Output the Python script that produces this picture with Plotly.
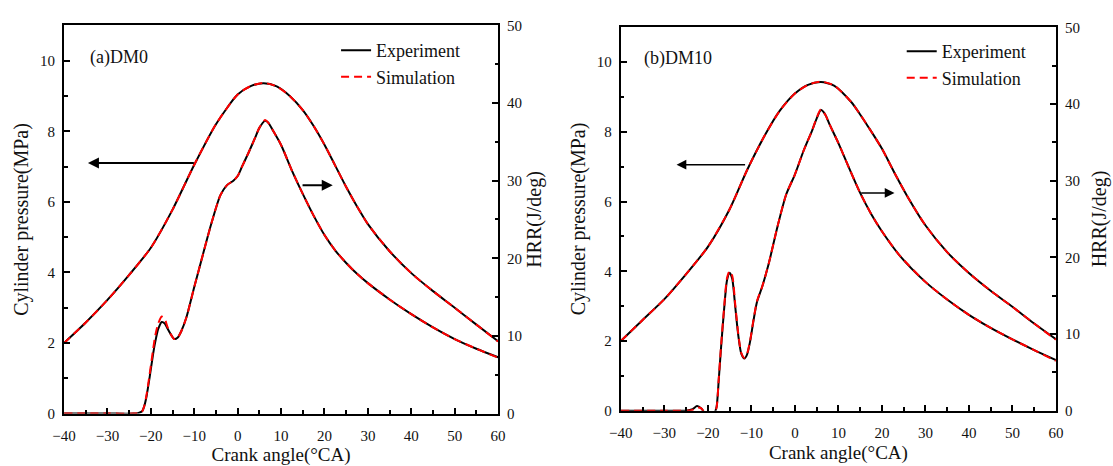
import plotly.graph_objects as go

# ---------------- data: (a) DM0 ----------------
dm0_p_ca = [-40, -35, -30, -25, -20, -15, -10, -5, 0, 3, 6, 9, 12, 15, 17.5, 20, 22.5, 25, 27.5, 30, 35, 40, 45, 50, 55, 60]
dm0_p_exp = [2.0, 2.58, 3.22, 3.93, 4.7, 5.78, 7.05, 8.2, 9.04, 9.28, 9.36, 9.27, 9.0, 8.6, 8.15, 7.62, 7.02, 6.42, 5.87, 5.37, 4.6, 3.98, 3.47, 3.0, 2.52, 2.05]
dm0_p_sim = [2.0, 2.58, 3.22, 3.93, 4.7, 5.78, 7.05, 8.2, 9.04, 9.28, 9.37, 9.27, 9.0, 8.6, 8.15, 7.62, 7.02, 6.42, 5.87, 5.37, 4.6, 3.98, 3.47, 3.0, 2.52, 2.04]

dm0_h_ca = [-40, -30, -24, -23, -22, -21.5, -21, -20.3, -19.5, -19, -18.3, -17.5, -16.8, -16.2, -15.4, -14.6, -13.8, -13,
            -11.8, -10, -8, -6, -4, -2.5, -1, 0, 1, 2.5, 4, 5, 6.3, 7, 8, 10, 12.5, 15, 17.5, 20, 22.5, 25, 27.5, 30, 35, 40, 45, 50, 55, 60]
dm0_h_exp = [0, 0, 0, 0.05, 0.3, 1.0, 2.2, 4.6, 7.6, 9.2, 10.9, 11.8, 11.6, 11.0, 10.2, 9.6, 9.8, 10.6,
             12.4, 16.3, 20.5, 24.6, 28.1, 29.4, 30.0, 30.6, 31.8, 33.6, 35.5, 36.8, 37.7, 37.5, 36.6, 34.6, 31.3, 28.3, 25.5, 23.0, 21.0, 19.4, 18.0, 16.8, 14.7, 12.8, 11.1, 9.6, 8.35, 7.25]
dm0_h_sim = [0, 0, 0, 0.05, 0.3, 1.0, 2.4, 5.0, 8.2, 10.0, 11.6, 12.5, 12.2, 11.2, 10.2, 9.6, 9.8, 10.6,
             12.4, 16.3, 20.5, 24.6, 28.1, 29.4, 30.0, 30.6, 31.8, 33.6, 35.5, 36.8, 37.8, 37.5, 36.6, 34.6, 31.3, 28.3, 25.5, 23.0, 21.0, 19.4, 18.0, 16.8, 14.7, 12.8, 11.1, 9.6, 8.35, 7.2]

# ---------------- data: (b) DM10 ----------------
dm10_p_ca = [-40, -35, -30, -25, -20, -15, -11, -7, -3.5, 0, 3, 6, 9, 13, 15, 17, 20, 23, 26, 30, 35, 40, 45, 50, 55, 60]
dm10_p_exp = [2.0, 2.6, 3.2, 3.92, 4.7, 5.78, 6.9, 7.88, 8.6, 9.1, 9.35, 9.43, 9.33, 8.85, 8.5, 8.12, 7.52, 6.8, 6.12, 5.32, 4.55, 3.95, 3.44, 2.98, 2.5, 2.05]
dm10_p_sim = [2.0, 2.6, 3.2, 3.92, 4.7, 5.78, 6.9, 7.88, 8.6, 9.1, 9.35, 9.44, 9.33, 8.85, 8.5, 8.12, 7.52, 6.8, 6.12, 5.32, 4.55, 3.95, 3.44, 2.98, 2.5, 2.04]

dm10_h_ca = [-40, -30, -25, -23.5, -22.5, -21.5, -20.5, -19.5, -18.5, -18, -17.5, -17, -16.3, -15.6, -15, -14.4, -13.7, -13,
             -12.3, -11.6, -11, -10.3, -9.5, -8.7, -7.5, -6, -4, -2, 0, 2, 4, 5, 6, 7, 8, 10, 12.5, 15, 17.5, 20, 24, 30, 35, 40, 45, 50, 55, 60]
dm10_h_exp = [0, 0, 0, 0.2, 0.6, 0.3, -0.5, -0.7, -0.3, 0.5, 4, 8, 13, 17, 18, 17.2, 13.5, 9.8,
              7.4, 6.8, 7.3, 9, 11.8, 14.2, 16.2, 19.2, 24.0, 28.2, 30.8, 33.9, 36.6, 38.1, 39.2, 38.6, 37.3, 34.9, 31.6, 28.4, 25.7, 23.4, 20.3, 16.8, 14.5, 12.5, 10.8, 9.3, 7.9, 6.6]
dm10_h_sim = [0, 0, 0, 0.1, 0.4, 0.3, -0.6, -0.8, -0.3, 0.4, 4.2, 8.2, 13.2, 17.3, 18.2, 17.6, 13.8, 10,
              7.5, 6.9, 7.4, 9.1, 11.9, 14.3, 16.2, 19.2, 24.0, 28.2, 30.8, 33.9, 36.6, 38.2, 39.3, 38.6, 37.3, 34.9, 31.6, 28.4, 25.7, 23.4, 20.3, 16.8, 14.5, 12.5, 10.8, 9.3, 7.9, 6.5]

FONT = "Liberation Serif, Times New Roman, Times, serif"
TXT = "#111111"
W, H = 1113, 466

fig = go.Figure()

def line_trace(x, y, xa, ya, leg, name, sim, show):
    style = dict(color="red", width=2, dash="8px,5px") if sim else dict(color="black", width=2)
    style.update(shape="spline", smoothing=0.7)
    return go.Scatter(x=x, y=y, mode="lines", name=name, line=style,
                      xaxis=xa, yaxis=ya, legend=leg, showlegend=show)

fig.add_trace(line_trace(dm0_p_ca, dm0_p_exp, "x", "y", "legend", "Experiment", False, True))
fig.add_trace(line_trace(dm0_h_ca, dm0_h_exp, "x", "y2", "legend", "Experiment", False, False))
fig.add_trace(line_trace(dm0_p_ca, dm0_p_sim, "x", "y", "legend", "Simulation", True, True))
fig.add_trace(line_trace(dm0_h_ca, dm0_h_sim, "x", "y2", "legend", "Simulation", True, False))
fig.add_trace(line_trace(dm10_p_ca, dm10_p_exp, "x2", "y3", "legend2", "Experiment", False, True))
fig.add_trace(line_trace(dm10_h_ca, dm10_h_exp, "x2", "y4", "legend2", "Experiment", False, False))
fig.add_trace(line_trace(dm10_p_ca, dm10_p_sim, "x2", "y3", "legend2", "Simulation", True, True))
fig.add_trace(line_trace(dm10_h_ca, dm10_h_sim, "x2", "y4", "legend2", "Simulation", True, False))

tickfont = dict(family=FONT, size=15, color=TXT)
minor_common = dict(ticks="inside", ticklen=3.5, tickwidth=1.5, tickcolor="black", showgrid=False)

def xaxis_cfg(domain, anchor):
    return dict(domain=domain, anchor=anchor, range=[-40, 60], tickmode="linear", tick0=-40, dtick=10,
                ticks="inside", ticklen=6, tickwidth=1.5, tickcolor="black",
                minor=dict(dtick=5, **minor_common),
                showline=True, linewidth=2, linecolor="black", mirror=True,
                showgrid=False, zeroline=False, tickfont=tickfont, ticklabelstandoff=7,
                title=dict(text="Crank angle(°CA)", font=dict(family=FONT, size=19, color=TXT), standoff=6))

def yleft_cfg(domain, anchor):
    return dict(domain=domain, anchor=anchor, range=[0, 11], tickmode="linear", tick0=0, dtick=2,
                ticks="inside", ticklen=6, tickwidth=1.5, tickcolor="black",
                minor=dict(dtick=1, **minor_common),
                showline=True, linewidth=2, linecolor="black",
                showgrid=False, zeroline=False, tickfont=tickfont, ticklabelstandoff=4,
                title=dict(text="Cylinder pressure(MPa)", font=dict(family=FONT, size=20, color=TXT), standoff=6))

def yright_cfg(over, anchor, standoff):
    return dict(overlaying=over, anchor=anchor, side="right", range=[0, 50], tickmode="linear", tick0=0, dtick=10,
                ticks="inside", ticklen=6, tickwidth=1.5, tickcolor="black",
                minor=dict(dtick=5, **minor_common),
                showline=True, linewidth=2, linecolor="black",
                showgrid=False, zeroline=False, tickfont=tickfont, ticklabelstandoff=4,
                title=dict(text="HRR(J/deg)", font=dict(family=FONT, size=20, color=TXT), standoff=standoff))

dx1 = [53 / W, 495 / W]
dy1 = [1 - 420 / H, 1 - 18 / H]
dx2 = [620 / W, 1063 / W]
dy2 = [1 - 417 / H, 1 - 20 / H]

legfont = dict(family=FONT, size=18, color=TXT)

fig.update_layout(
    width=W, height=H, margin=dict(l=0, r=0, t=0, b=0),
    paper_bgcolor="white", plot_bgcolor="white",
    font=dict(family=FONT, color=TXT),
    xaxis=xaxis_cfg(dx1, "y"),
    yaxis=yleft_cfg(dy1, "x"),
    yaxis2=yright_cfg("y", "x", 6),
    xaxis2=xaxis_cfg(dx2, "y3"),
    yaxis3=yleft_cfg(dy2, "x2"),
    yaxis4=yright_cfg("y3", "x2", 13),
    legend=dict(x=330 / W, y=1 - 25 / H, xanchor="left", yanchor="top", font=legfont,
                bgcolor="rgba(0,0,0,0)", borderwidth=0, tracegroupgap=0),
    legend2=dict(x=906 / W, y=1 - 26 / H, xanchor="left", yanchor="top", font=legfont,
                 bgcolor="rgba(0,0,0,0)", borderwidth=0, tracegroupgap=0),
)

# panel labels
fig.add_annotation(text="(a)DM0", x=77 / W, y=1 - 51 / H, xref="paper", yref="paper",
                   xanchor="left", yanchor="middle", showarrow=False, font=dict(family=FONT, size=18, color=TXT))
fig.add_annotation(text="(b)DM10", x=642 / W, y=1 - 52 / H, xref="paper", yref="paper",
                   xanchor="left", yanchor="middle", showarrow=False, font=dict(family=FONT, size=18, color=TXT))

# arrows (head at x,y; tail at ax,ay)
fig.add_annotation(x=-34.5, y=7.1, ax=-9.75, ay=7.1, xref="x", yref="y", axref="x", ayref="y",
                   text="", showarrow=True, arrowhead=2, arrowsize=1.1, arrowwidth=2, arrowcolor="black")
fig.add_annotation(x=21.9, y=29.4, ax=14.6, ay=29.4, xref="x", yref="y2", axref="x", ayref="y2",
                   text="", showarrow=True, arrowhead=2, arrowsize=1.1, arrowwidth=2, arrowcolor="black")
fig.add_annotation(x=-27.2, y=7.06, ax=-11.1, ay=7.06, xref="x2", yref="y3", axref="x2", ayref="y3",
                   text="", showarrow=True, arrowhead=2, arrowsize=1.3, arrowwidth=1.5, arrowcolor="black")
fig.add_annotation(x=22.9, y=28.4, ax=14.9, ay=28.4, xref="x2", yref="y4", axref="x2", ayref="y4",
                   text="", showarrow=True, arrowhead=2, arrowsize=1.3, arrowwidth=1.5, arrowcolor="black")

fig.write_html("out.html")
